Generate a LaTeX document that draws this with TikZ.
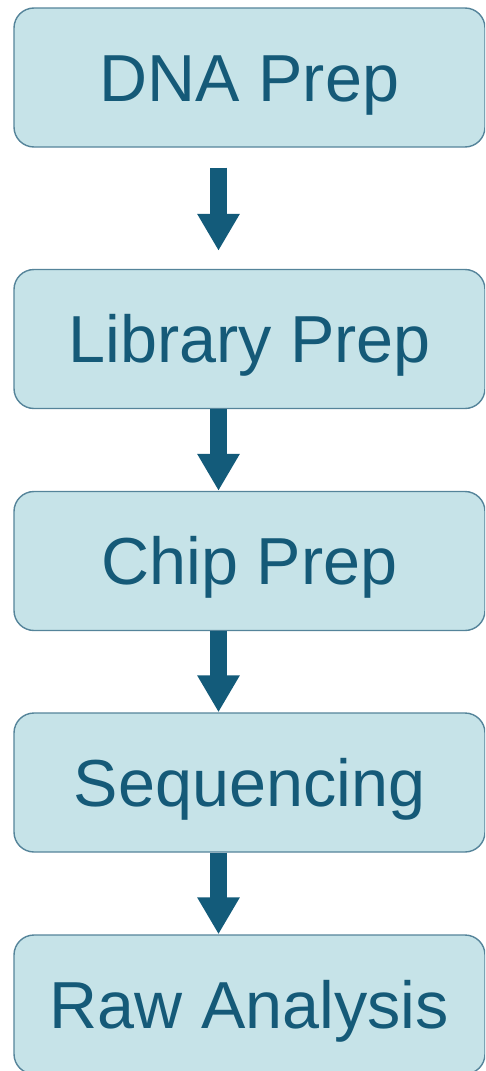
\documentclass[tikz,border=0pt]{standalone}
\usepackage{fontspec}
\setmainfont{Liberation Sans}
\usetikzlibrary{arrows.meta}
\definecolor{boxfill}{HTML}{C6E3E8}
\definecolor{boxline}{HTML}{55849A}
\definecolor{boxtext}{HTML}{155A78}
\definecolor{arrowcol}{HTML}{135B7A}
\tikzset{
  stepbox/.style={draw=boxline, line width=1.4pt, fill=boxfill, rounded corners=20pt,
    minimum width=471pt, minimum height=139pt, inner sep=0pt,
    text=boxtext, font=\fontsize{66.5}{70}\selectfont, text height=47.5pt, text depth=0pt},
  flow/.style={draw=arrowcol, line width=17pt,
    -{Triangle[width=40pt,length=37pt]}}
}
\begin{document}
\begin{tikzpicture}[x=1pt,y=-1pt]
\useasboundingbox (0,0) rectangle (485,1071);
\begin{scope}
\clip (0,0) rectangle (485,1071);
\node[stepbox] (dna) at (249.5,77.5) {DNA Prep};
\node[stepbox] (lib) at (249.5,339) {Library Prep};
\node[stepbox] (chip) at (249.5,561) {Chip Prep};
\node[stepbox] (seq) at (249.5,782.5) {Sequencing};
\node[stepbox] (raw) at (249.5,1004.5) {Raw Analysis};
\draw[flow, shorten <=20pt, shorten >=18pt] ([xshift=-31pt]dna.south) -- ([xshift=-31pt]lib.north);
\draw[flow] ([xshift=-31pt]lib.south) -- ([xshift=-31pt]chip.north);
\draw[flow] ([xshift=-31pt]chip.south) -- ([xshift=-31pt]seq.north);
\draw[flow] ([xshift=-31pt]seq.south) -- ([xshift=-31pt]raw.north);
\end{scope}
\end{tikzpicture}
\end{document}
